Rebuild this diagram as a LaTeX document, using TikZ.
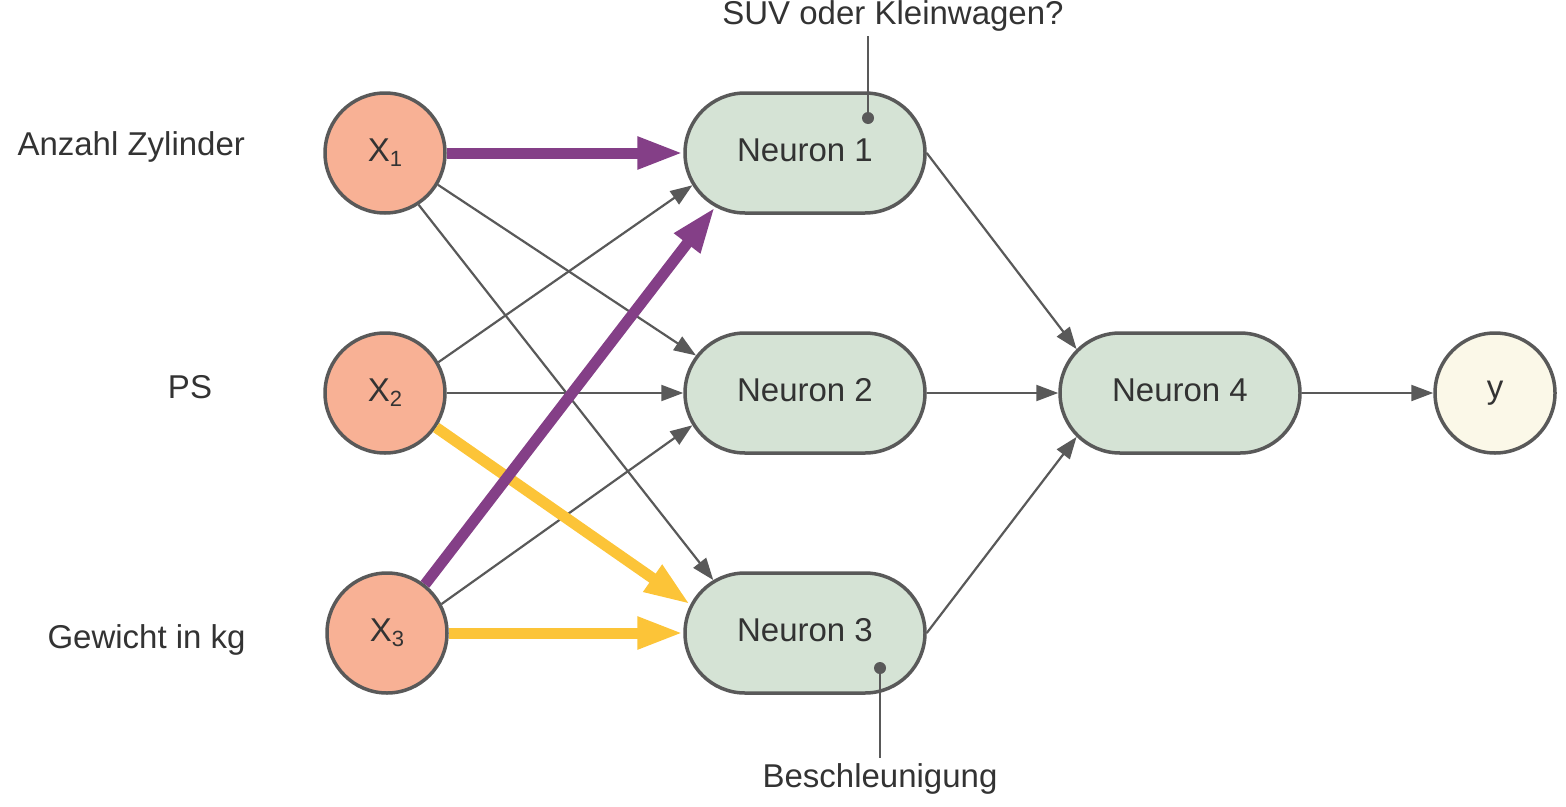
\documentclass[tikz,border=0pt]{standalone}
\usepackage{fontspec}
\setmainfont{Liberation Sans}
\usetikzlibrary{shapes.misc,arrows.meta}
\definecolor{bordergray}{HTML}{595959}
\definecolor{txtgray}{HTML}{333333}
\definecolor{inorange}{HTML}{F8B195}
\definecolor{neurgreen}{HTML}{D5E3D5}
\definecolor{outyellow}{HTML}{FBF8E8}
\definecolor{wpurple}{HTML}{843F87}
\definecolor{wyellow}{HTML}{FCC438}
\tikzset{
  every node/.style={text=txtgray, font=\fontsize{33}{39}\selectfont},
  inputnode/.style={circle, draw=bordergray, line width=3.5pt, fill=inorange, minimum size=120pt, inner sep=0pt},
  outnode/.style={circle, draw=bordergray, line width=3.5pt, fill=outyellow, minimum size=120pt, inner sep=0pt},
  neuronnode/.style={rounded rectangle, draw=bordergray, line width=3.5pt, fill=neurgreen, minimum width=240pt, minimum height=120pt, inner sep=0pt, text height=16pt, text depth=0pt},
  thinarrow/.style={draw=bordergray, line width=2.2pt, -{Triangle[length=22pt,width=16pt]}},
  purplearrow/.style={draw=wpurple, line width=11pt, -{Triangle[length=46pt,width=30pt]}},
  yellowarrow/.style={draw=wyellow, line width=11pt, -{Triangle[length=46pt,width=30pt]}},
  annoline/.style={draw=bordergray, line width=2.5pt},
  annodot/.style={circle, fill=bordergray, inner sep=0pt, minimum size=12pt},
}
\newcommand{\xsub}[2]{#1\raisebox{-0.3ex}{\fontsize{22}{22}\selectfont #2}}
\begin{document}
\begin{tikzpicture}[x=1pt,y=-1pt]
\useasboundingbox (0,0) rectangle (1566,806);

% labels
\node[anchor=west] (lab1) at (14,147) {Anzahl Zylinder};
\node (lab2) at (190,387) {PS};
\node[anchor=west] (lab3) at (44,640) {Gewicht in kg};

% nodes
\node[inputnode] (x1) at (385,153) {\xsub{X}{1}};
\node[inputnode] (x2) at (385,393) {\xsub{X}{2}};
\node[inputnode] (x3) at (387,633) {\xsub{X}{3}};
\node[neuronnode] (n1) at (805,153) {Neuron 1};
\node[neuronnode] (n2) at (805,393) {Neuron 2};
\node[neuronnode] (n3) at (805,633) {Neuron 3};
\node[neuronnode] (n4) at (1180,393) {Neuron 4};
\node[outnode] (y) at (1495,393) {y};

% thin connections
\draw[thinarrow] (x1.-31.6) -- (n2.161.7);
\draw[thinarrow] (x1.-57.6) -- (n3.150.4);
\draw[thinarrow] (x2.30.3) -- (n1.-164.7);
\draw[thinarrow] (x2.east) -- (n2.west);
\draw[thinarrow] (x3.28.6) -- (n2.-164.5);
\draw[thinarrow] (n1.east) -- (n4.157.4);
\draw[thinarrow] (n2.east) -- (n4.west);
\draw[thinarrow] (n3.east) -- (n4.-157.2);
\draw[thinarrow] (n4.east) -- (y.west);

% thick weighted connections
\draw[yellowarrow] (x2.-34) -- (n3.166);
\draw[purplearrow] (x3.52) -- (n1.-149.6);
\draw[purplearrow] (x1.east) -- (n1.west);
\draw[yellowarrow] (x3.east) -- (n3.west);

% annotations
\node (suv) at (893,16) {SUV oder Kleinwagen?};
\coordinate (suvend) at (868,36);
\node[annodot] (dot1) at (868,118) {};
\draw[annoline] (dot1.center) -- (suvend);

\node (besch) at (880,779) {Beschleunigung};
\coordinate (beschend) at (880,758);
\node[annodot] (dot3) at (880,668) {};
\draw[annoline] (dot3.center) -- (beschend);
\end{tikzpicture}
\end{document}
